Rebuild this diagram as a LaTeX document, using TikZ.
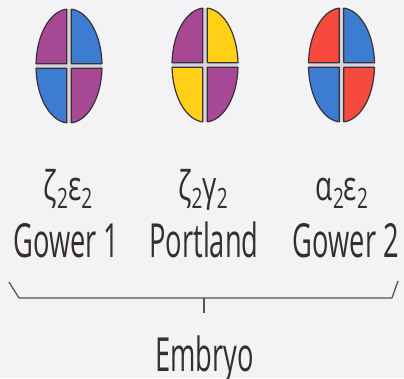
\documentclass[tikz,border=0pt]{standalone}
\usepackage{fontspec}
\setmainfont{Open Sans}
\definecolor{bgcol}{HTML}{F3F3F6}
\definecolor{ink}{HTML}{3A3238}
\definecolor{seam}{HTML}{D6D4D8}
\definecolor{zetacol}{HTML}{A64894}
\definecolor{epscol}{HTML}{3C7DD2}
\definecolor{gamcol}{HTML}{FFD015}
\definecolor{alphcol}{HTML}{F64A3E}
\tikzset{
  quad/.style={draw=ink, line width=1.2pt, line join=round},
  label/.style={inner sep=0pt, anchor=base, text=ink!90!black},
  brace/.style={draw=ink!85, line width=1.3pt, line join=round},
}
% half-axes of each globin tetramer and half-width of the seam
\def\ra{33}\def\rb{57}\def\gap{2.3}
% one quadrant: centre x, centre y, sign x, sign y, colour
\newcommand\quadrant[5]{%
  \pgfmathsetmacro\tA{asin(\gap/\rb)}%
  \pgfmathsetmacro\tB{acos(\gap/\ra)}%
  \filldraw[quad, fill=#5] ({#1+#3*\gap},{#2+#4*\gap})
    -- plot[domain=\tA:\tB, samples=40, variable=\t]
       ({#1+#3*\ra*cos(\t)},{#2+#4*\rb*sin(\t)}) -- cycle;}
% whole tetramer: centre x, centre y, colours TL, TR, BL, BR
\newcommand\tetramer[6]{%
  \fill[seam] (#1,#2) ellipse[x radius=\ra, y radius=\rb];
  \quadrant{#1}{#2}{-1}{-1}{#3}
  \quadrant{#1}{#2}{1}{-1}{#4}
  \quadrant{#1}{#2}{-1}{1}{#5}
  \quadrant{#1}{#2}{1}{1}{#6}}
\newcommand\gk[1]{\fontsize{41}{44}\selectfont #1}
\newcommand\sub{\raisebox{-8pt}{\fontsize{28}{30}\selectfont 2}}
\newcommand\nm[1]{\scalebox{0.58}[1]{\fontsize{47}{50}\selectfont #1}}
\newcommand\gr[1]{\scalebox{0.68}[1]{#1}}
\begin{document}
\begin{tikzpicture}[x=1pt, y=-1pt]
  \fill[bgcol] (0,0) rectangle (404,378);
  \useasboundingbox (0,0) rectangle (404,378);

  \coordinate (g1) at (69,66);
  \coordinate (pt) at (205,65);
  \coordinate (g2) at (341.5,65);
  \tetramer{69}{66}{zetacol}{epscol}{epscol}{zetacol}
  \tetramer{205}{65}{zetacol}{gamcol}{gamcol}{zetacol}
  \tetramer{341.5}{65}{alphcol}{epscol}{epscol}{alphcol}

  \node[label] (c1) at (68,200) {\gr{\gk{ζ}\sub\gk{ε}\sub}};
  \node[label] (c2) at (203,200) {\gr{\gk{ζ}\sub\gk{γ}\sub}};
  \node[label] (c3) at (342,200) {\gr{\gk{α}\sub\gk{ε}\sub}};

  \node[label] (n1) at (66.5,257) {\nm{Gower 1}};
  \node[label] (n2) at (204,257) {\nm{Portland}};
  \node[label] (n3) at (346,257) {\nm{Gower 2}};

  \coordinate (bl) at (9,282);
  \coordinate (blc) at (19,298);
  \coordinate (brc) at (392,298);
  \coordinate (br) at (398,281);
  \coordinate (mid) at (204,298);
  \coordinate (tick) at (204,313);
  \draw[brace] (bl) -- (blc) -- (brc) -- (br);
  \draw[brace] (mid) -- (tick);

  \node[label] (emb) at (204.5,371) {\nm{Embryo}};
\end{tikzpicture}
\end{document}
